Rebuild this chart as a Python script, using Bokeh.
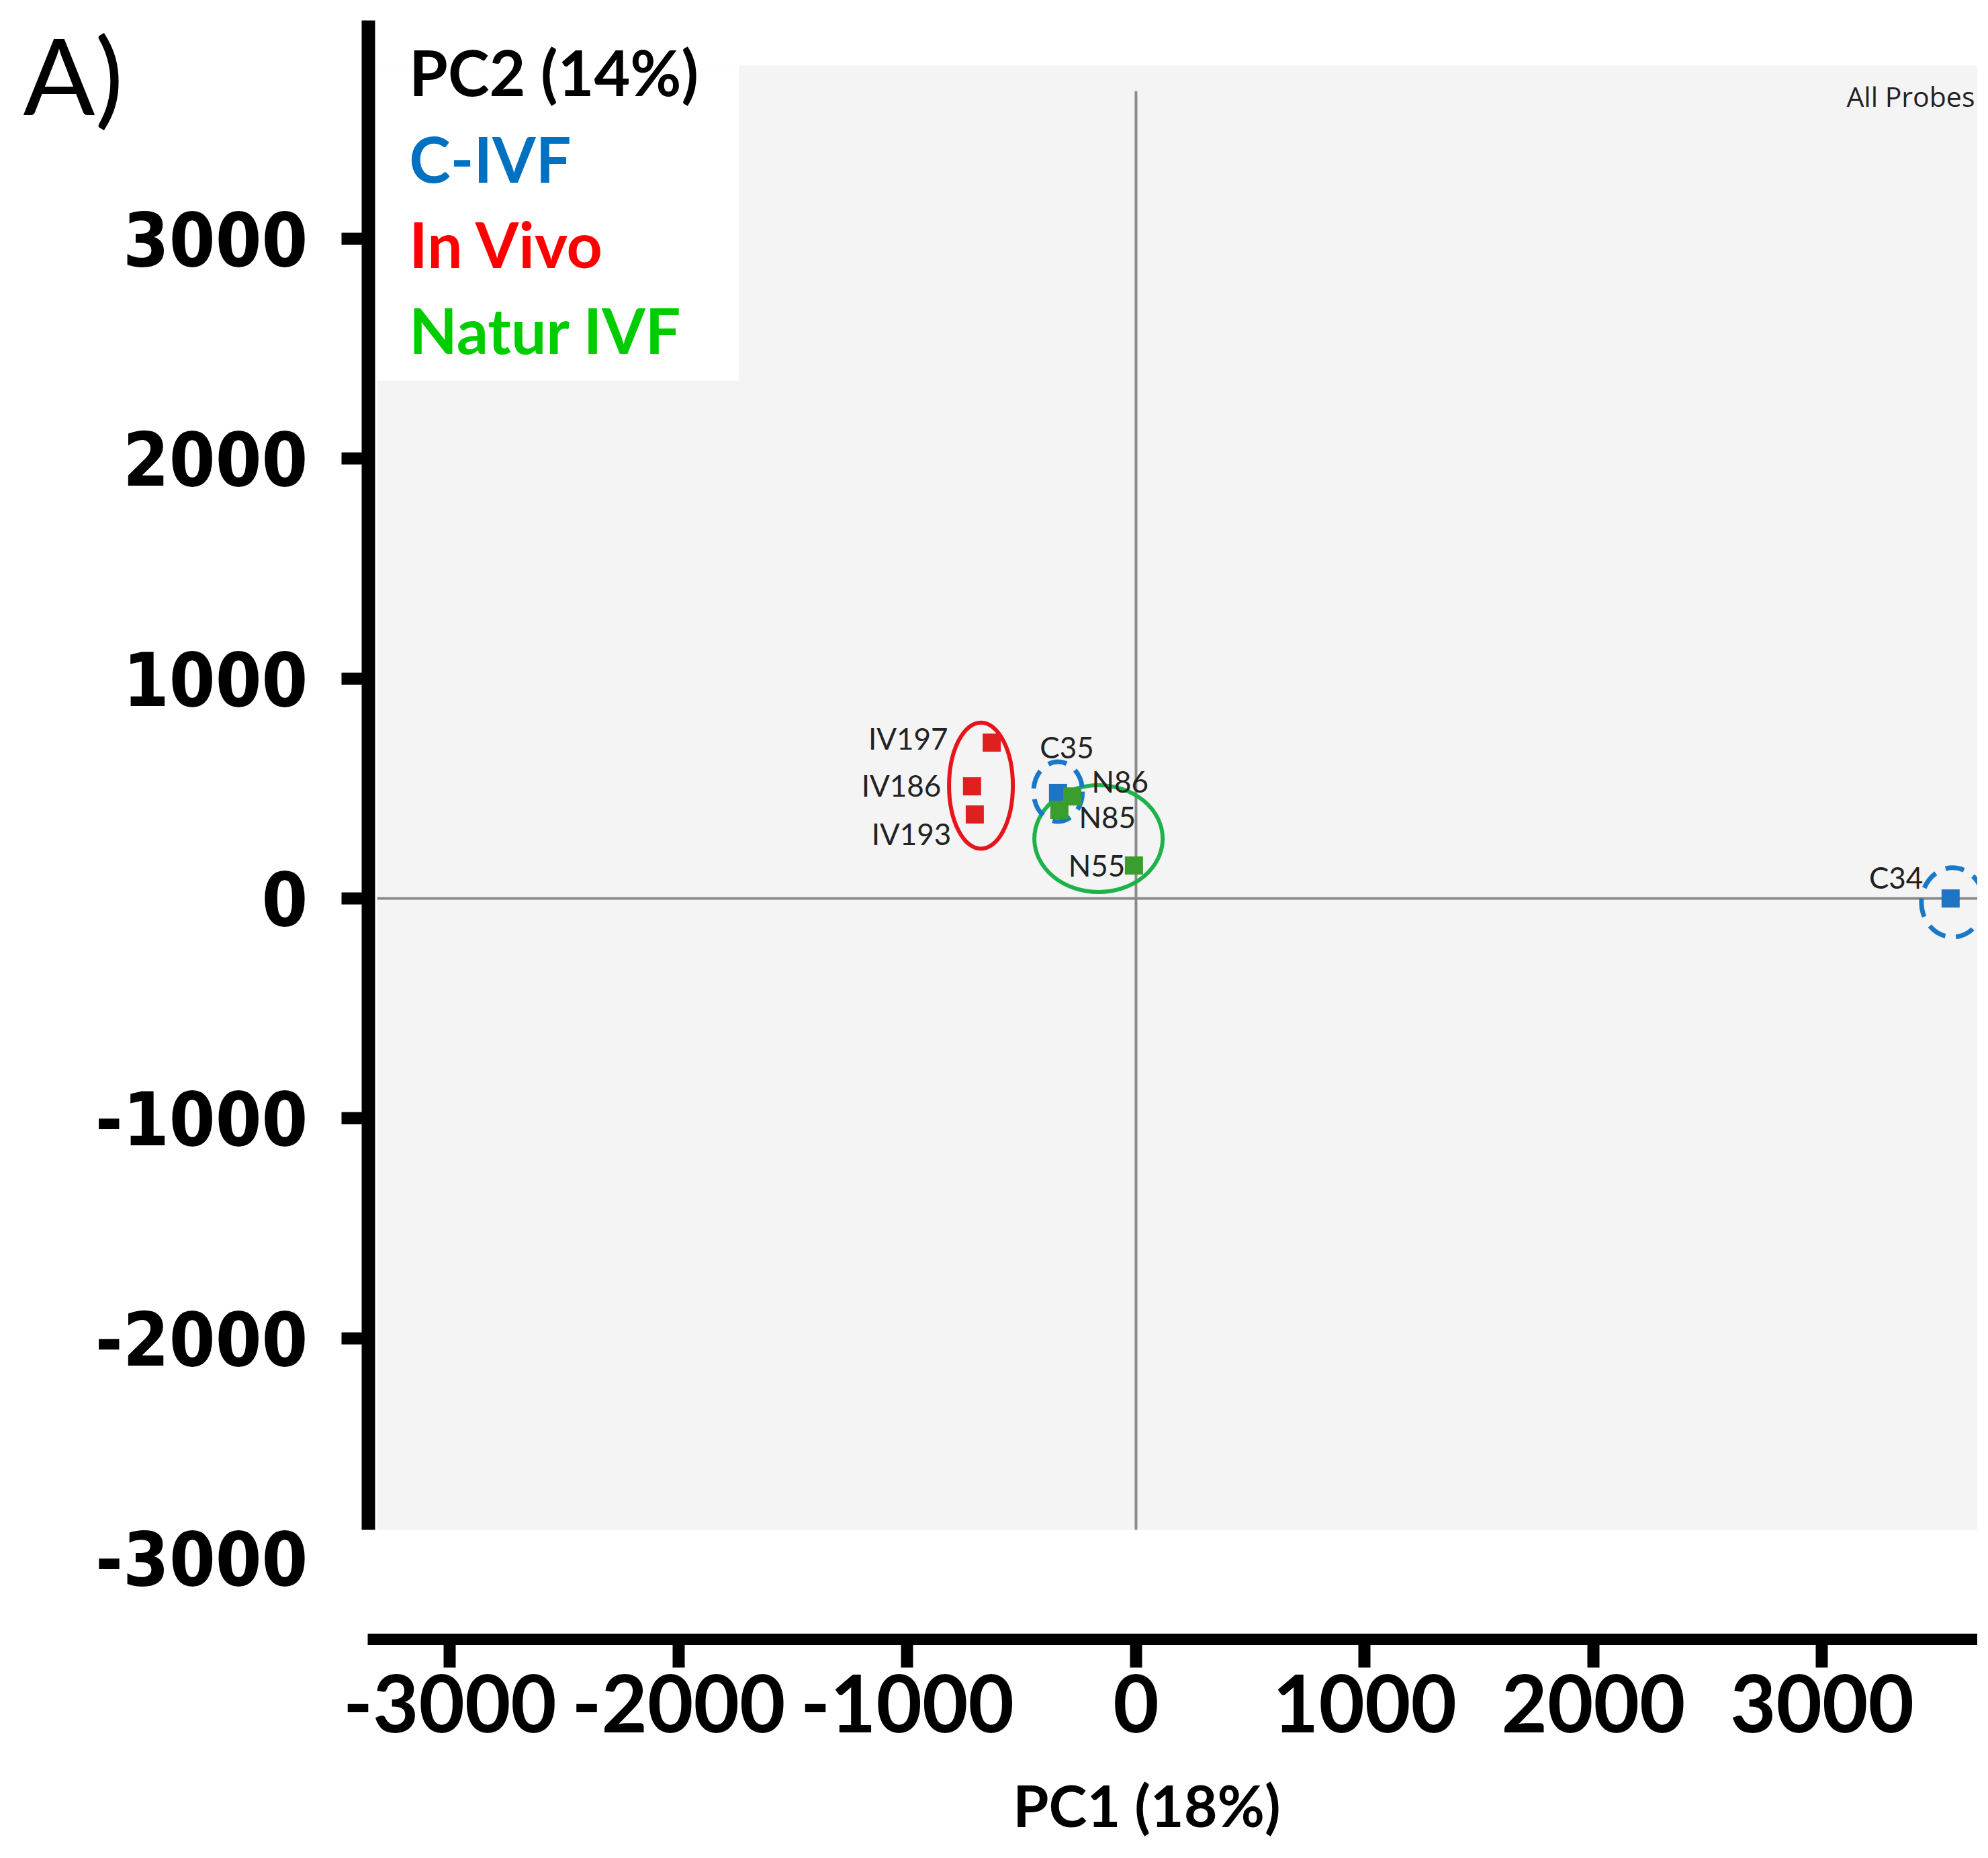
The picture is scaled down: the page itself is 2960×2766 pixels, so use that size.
from bokeh.plotting import figure
from bokeh.models import Range1d, FixedTicker, Label, ColumnDataSource
from bokeh.core.properties import value
from bokeh.embed import file_html
from bokeh.resources import INLINE

# ---------------- data ----------------
samples = ["C35", "C34", "IV197", "IV186", "IV193", "N86", "N85", "N55"]
groups = ["C-IVF", "C-IVF", "In Vivo", "In Vivo", "In Vivo", "Natur IVF", "Natur IVF", "Natur IVF"]
pc1 = [-341, 3562, -631, -717, -705, -279, -335, -9]
pc2 = [480, 0, 709, 510, 382, 464, 403, 150]

# cluster ellipses (centre, width, height in data units)
ell_group = ["In Vivo", "Natur IVF", "C-IVF", "C-IVF"]
ell_x = [-678, -164, -341, 3571]
ell_y = [513, 272, 486, -18]
ell_w = [279, 561, 214, 273]
ell_h = [574, 486, 272, 315]

x_ticks = [-3000, -2000, -1000, 0, 1000, 2000, 3000]
y_ticks = [-2000, -1000, 0, 1000, 2000, 3000]
y_extra_tick = -3000

legend_items = ["C-IVF", "In Vivo", "Natur IVF"]

# ---------------- styles / layout ----------------
point_colors = {"C-IVF": "#1F74C4", "In Vivo": "#E0201E", "Natur IVF": "#3A9E2E"}
ring_colors = {"C-IVF": "#1A78C8", "In Vivo": "#E8141B", "Natur IVF": "#1DB34A"}
ring_dash = {"C-IVF": "28 16", "In Vivo": "solid", "Natur IVF": "solid"}
ring_width = {"C-IVF": 7, "In Vivo": 6, "Natur IVF": 6}
text_colors = {"C-IVF": "#0070C0", "In Vivo": "#FF0000", "Natur IVF": "#00CC00"}

# label offsets (px) and alignment for each sample label
lab_dx = {"C35": -27, "C34": -41, "IV197": -65, "IV186": -46, "IV193": -35, "N86": 29, "N85": 29, "N55": -13}
lab_dy = {"C35": -68, "C34": -32, "IV197": -6, "IV186": -2, "IV193": 28, "N86": -23, "N85": 10, "N55": 0}
lab_align = {"C35": "left", "C34": "right", "IV197": "right", "IV186": "right", "IV193": "right",
             "N86": "left", "N85": "left", "N55": "right"}

# the frame fills the whole canvas; the axes are placed at fixed locations
X0, X1 = -4966, 3680
Y0, Y1 = -4317, 4085
YAXIS_AT, XAXIS_AT = -3357, -3370
YAXIS_TOP = 3993
PLOT_L, PLOT_T, PLOT_B = -3318, 3789, -2872
VLINE_TOP = 3672

W, H = 2944, 2750
p = figure(width=W, height=H, output_backend="svg", toolbar_location=None,
           x_range=Range1d(X0, X1), y_range=Range1d(Y0, Y1),
           min_border=0, min_border_left=0, min_border_right=0, min_border_top=0,
           min_border_bottom=0)
p.grid.visible = False
p.outline_line_color = None
p.background_fill_color = "white"
p.border_fill_color = "white"

# light grey plotting panel of the PCA viewer
p.quad(left=[PLOT_L], right=[X1], top=[PLOT_T], bottom=[PLOT_B],
       fill_color="#F4F4F4", line_color=None)
# white legend box
p.quad(left=[PLOT_L], right=[-1736], top=[PLOT_T], bottom=[2356],
       fill_color="white", line_color=None)

# zero lines
p.segment(x0=[0, PLOT_L], y0=[PLOT_B, 0], x1=[0, X1], y1=[VLINE_TOP, 0],
          line_color="#8a8a8a", line_width=4)

# cluster ellipses
for g, ex, ey, ew, eh in zip(ell_group, ell_x, ell_y, ell_w, ell_h):
    p.ellipse(x=[ex], y=[ey], width=[ew], height=[eh], fill_alpha=0,
              line_color=ring_colors[g], line_width=ring_width[g], line_dash=ring_dash[g])

# points, drawn group by group (C-IVF first, greens on top)
for g in ["C-IVF", "In Vivo", "Natur IVF"]:
    xs = [x for x, gg in zip(pc1, groups) if gg == g]
    ys = [y for y, gg in zip(pc2, groups) if gg == g]
    p.scatter(x=xs, y=ys, marker="square", size=27, fill_color=point_colors[g],
              line_color=None)

# sample labels
for al in ["left", "right"]:
    sel = [i for i, s in enumerate(samples) if lab_align[s] == al]
    src = ColumnDataSource(dict(
        x=[pc1[i] for i in sel], y=[pc2[i] for i in sel],
        t=[samples[i] for i in sel],
        dx=[lab_dx[samples[i]] for i in sel], dy=[lab_dy[samples[i]] for i in sel]))
    p.text(x="x", y="y", text="t", x_offset="dx", y_offset="dy", source=src,
           text_align=al, text_baseline="middle", text_font=value("Lato"),
           text_font_size="44px", text_color="#222222")

# ---------------- axes ----------------
ya = p.yaxis[0]
ya.fixed_location = YAXIS_AT
ya.ticker = FixedTicker(ticks=y_ticks)
ya.bounds = (PLOT_B, YAXIS_TOP)
ya.major_label_overrides = {float(t): str(t) for t in y_ticks}
ya.axis_line_width = 20
ya.axis_line_color = "black"
ya.major_tick_line_width = 18
ya.major_tick_out = 40
ya.major_tick_in = 0
ya.minor_tick_line_color = None
ya.major_label_standoff = 50
ya.major_label_text_font = "DejaVu Sans Condensed"
ya.major_label_text_font_style = "bold"
ya.major_label_text_font_size = "110px"
ya.major_label_text_color = "black"

xa = p.xaxis[0]
xa.fixed_location = XAXIS_AT
xa.ticker = FixedTicker(ticks=x_ticks)
xa.bounds = (-3360, X1)
xa.major_label_overrides = {float(t): str(t) for t in x_ticks}
xa.axis_line_width = 17
xa.axis_line_color = "black"
xa.major_tick_line_width = 18
xa.major_tick_out = 42
xa.major_tick_in = 0
xa.minor_tick_line_color = None
xa.major_label_standoff = 10
xa.major_label_text_font = "Lato"
xa.major_label_text_font_style = "bold"
xa.major_label_text_font_size = "118px"
xa.major_label_text_color = "black"

# the -3000 label of the y axis sits below the end of the axis line (no tick)
p.add_layout(Label(x=-3621, y=y_extra_tick, text=str(y_extra_tick), text_align="right",
                   text_baseline="middle", text_font="DejaVu Sans Condensed",
                   text_font_style="bold", text_font_size="110px", text_color="black"))

# axis titles
p.add_layout(Label(x=47, y=-4120, text="PC1 (18%)", text_align="center",
                   text_baseline="middle", text_font="Lato", text_font_style="bold",
                   text_font_size="86px", text_color="black"))
p.add_layout(Label(x=-3178, y=3761, text="PC2 (14%)", text_align="left",
                   text_baseline="middle", text_font="Lato", text_font_style="bold",
                   text_font_size="93px", text_color="black"))

# legend texts
leg_y = [3364, 2976, 2585]
for name, ly in zip(legend_items, leg_y):
    p.add_layout(Label(x=-3178, y=ly, text=name, text_align="left", text_baseline="middle",
                       text_font="Lato", text_font_style="bold", text_font_size="93px",
                       text_color=text_colors[name]))

# panel title and figure letter
p.add_layout(Label(x=3668, y=3651, text="All Probes", text_align="right",
                   text_baseline="middle", text_font="Open Sans", text_font_size="41px",
                   text_color="#222222"))
p.add_layout(Label(x=-4866, y=3749, text="A)", text_align="left", text_baseline="middle",
                   text_font="Lato", text_font_size="158px", text_color="black"))

open("out.html", "w").write(file_html(p, INLINE))
